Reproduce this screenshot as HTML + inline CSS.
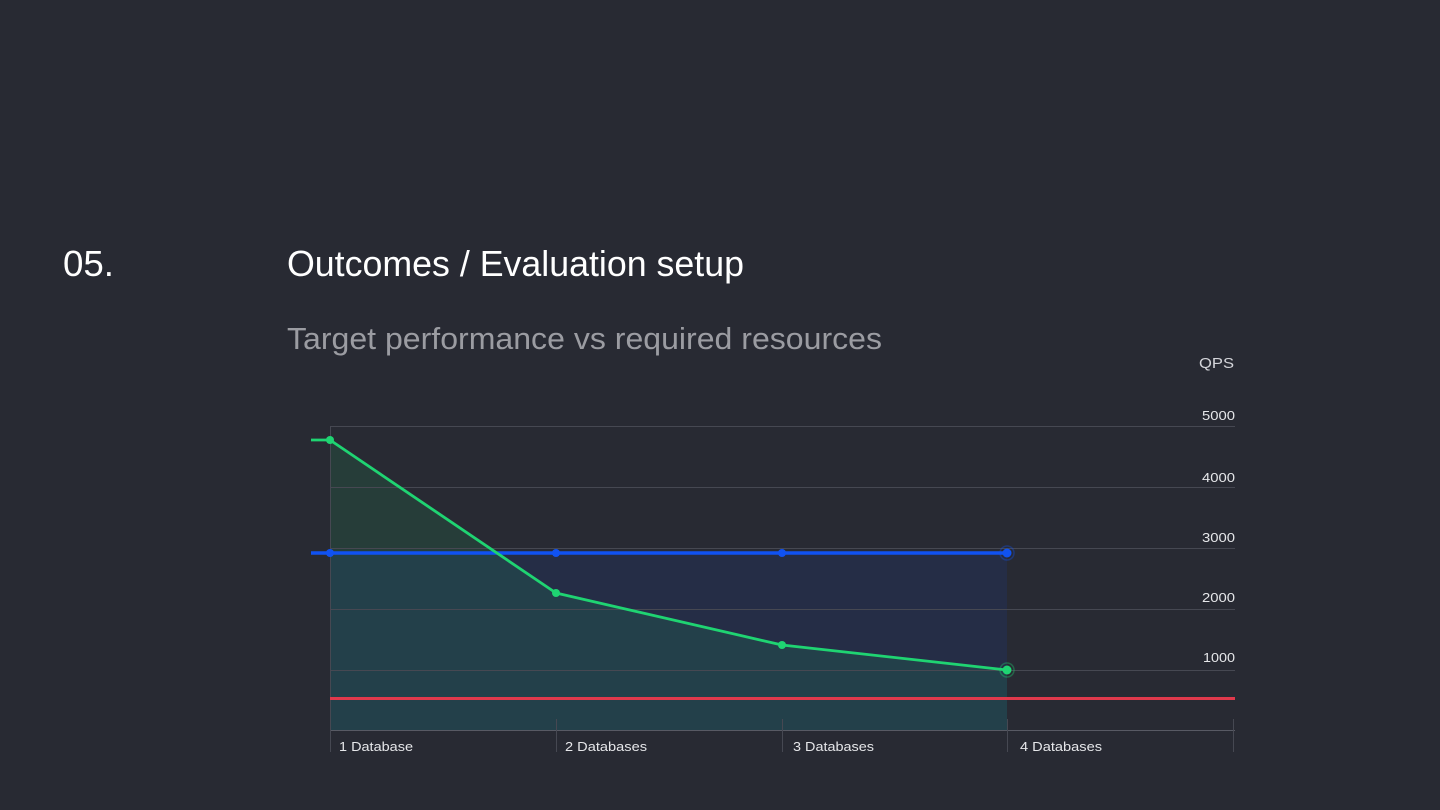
<!DOCTYPE html>
<html><head><meta charset="utf-8"><style>
html,body{margin:0;padding:0;background:#282a33;}
svg{display:block;}
text{font-family:"Liberation Sans",sans-serif;}
</style></head><body>
<svg width="1440" height="810" viewBox="0 0 1440 810" xmlns="http://www.w3.org/2000/svg">
<rect width="1440" height="810" fill="#282a33"/>
<text x="63" y="276" font-size="36" fill="#ffffff" textLength="51" lengthAdjust="spacingAndGlyphs">05.</text>
<text x="287" y="276" font-size="36" fill="#ffffff" textLength="457" lengthAdjust="spacingAndGlyphs">Outcomes / Evaluation setup</text>
<text x="287" y="349" font-size="31" fill="#9b9ca2" textLength="595" lengthAdjust="spacingAndGlyphs">Target performance vs required resources</text>
<text x="1199" y="368" font-size="15" fill="#d4d5da" textLength="35" lengthAdjust="spacingAndGlyphs">QPS</text>
<g font-size="13" fill="#e6e7ea">
<text x="1202" y="420" textLength="33" lengthAdjust="spacingAndGlyphs">5000</text>
<text x="1202" y="482" textLength="33" lengthAdjust="spacingAndGlyphs">4000</text>
<text x="1202" y="542" textLength="33" lengthAdjust="spacingAndGlyphs">3000</text>
<text x="1202" y="602" textLength="33" lengthAdjust="spacingAndGlyphs">2000</text>
<text x="1203" y="662" textLength="32" lengthAdjust="spacingAndGlyphs">1000</text>
</g>
<!-- fills -->
<polygon points="330,553 1007,553 1007,730.5 330,730.5" fill="rgba(20,70,230,0.11)"/>
<polygon points="330,440 556,593 782,645 1007,670 1007,730.5 330,730.5" fill="rgba(30,215,110,0.11)"/>
<!-- grid -->
<g stroke="#464852" stroke-width="1">
<line x1="330" y1="426.5" x2="1235" y2="426.5"/>
<line x1="330" y1="487.5" x2="1235" y2="487.5"/>
<line x1="330" y1="548.5" x2="1235" y2="548.5"/>
<line x1="330" y1="609.5" x2="1235" y2="609.5"/>
<line x1="330" y1="670.5" x2="1235" y2="670.5"/>
<line x1="330" y1="730.5" x2="1235" y2="730.5" stroke="#585a64"/>
<line x1="330.5" y1="426" x2="330.5" y2="752"/>
<line x1="556.5" y1="719" x2="556.5" y2="752"/>
<line x1="782.5" y1="719" x2="782.5" y2="752"/>
<line x1="1007.5" y1="719" x2="1007.5" y2="752"/>
<line x1="1233.5" y1="719" x2="1233.5" y2="752"/>
</g>
<!-- red -->
<line x1="330" y1="698.5" x2="1235" y2="698.5" stroke="#e0394c" stroke-width="3"/>
<!-- blue -->
<line x1="311" y1="553" x2="1007" y2="553" stroke="#1052f2" stroke-width="3.5"/>
<g fill="#1052f2">
<circle cx="330" cy="553" r="4"/>
<circle cx="556" cy="553" r="4"/>
<circle cx="782" cy="553" r="4"/>
<circle cx="1007" cy="553" r="4.5"/>
</g>
<circle cx="1007" cy="553" r="7" fill="none" stroke="#1052f2" stroke-opacity="0.35" stroke-width="1.5"/>
<!-- green -->
<polyline points="311,440 330,440 556,593 782,645 1007,670" fill="none" stroke="#1fd472" stroke-width="2.8" stroke-linejoin="round"/>
<g fill="#1fd472">
<circle cx="330" cy="440" r="4"/>
<circle cx="556" cy="593" r="4"/>
<circle cx="782" cy="645" r="4"/>
<circle cx="1007" cy="670" r="4.5"/>
</g>
<circle cx="1007" cy="670" r="7" fill="none" stroke="#1fd472" stroke-opacity="0.35" stroke-width="1.5"/>
<!-- x labels -->
<g font-size="13" fill="#e6e7ea">
<text x="339" y="751" textLength="74" lengthAdjust="spacingAndGlyphs">1 Database</text>
<text x="565" y="751" textLength="82" lengthAdjust="spacingAndGlyphs">2 Databases</text>
<text x="793" y="751" textLength="81" lengthAdjust="spacingAndGlyphs">3 Databases</text>
<text x="1020" y="751" textLength="82" lengthAdjust="spacingAndGlyphs">4 Databases</text>
</g>
</svg>
</body></html>
